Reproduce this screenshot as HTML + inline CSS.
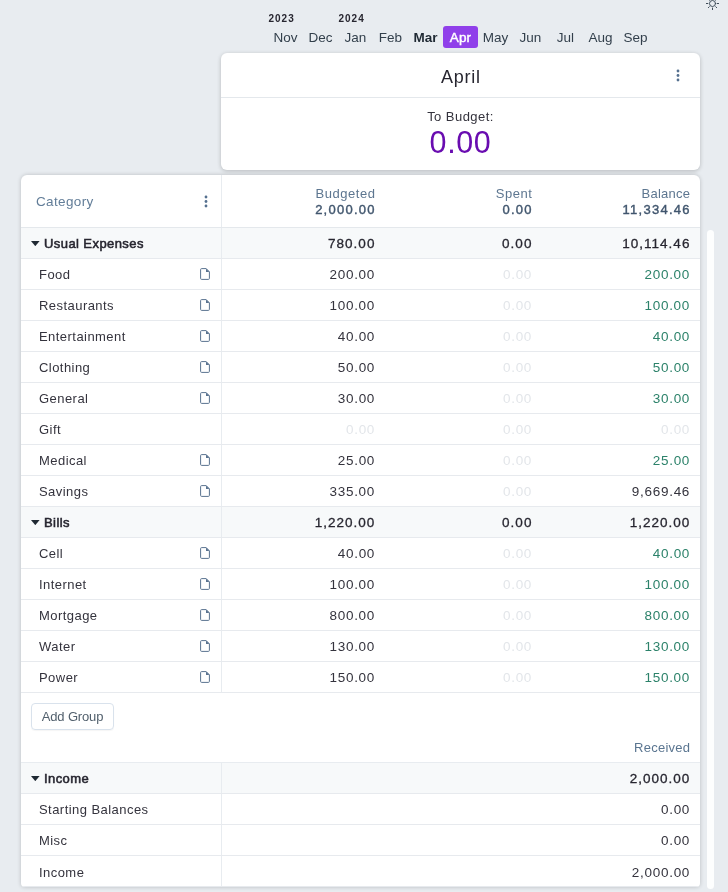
<!DOCTYPE html>
<html><head><meta charset="utf-8"><title>Budget</title>
<style>
*{box-sizing:border-box;margin:0;padding:0}
html,body{width:728px;height:892px;overflow:hidden;background:#e8ecf0;font-family:"Liberation Sans",sans-serif;font-size:13px;color:#34333d}
body{position:relative}
.card,.table,.months,.years{will-change:transform}
.sun{position:absolute;left:705px;top:-4px}
.years div{position:absolute;top:13px;font-size:10px;font-weight:bold;color:#272630;letter-spacing:.95px}
.months{position:absolute;left:268px;top:26px;height:22px;display:flex}
.months div{width:35px;height:22px;line-height:24px;text-align:center;font-size:13.5px;color:#323f4b;border-radius:3px}
.months .b{font-weight:bold;color:#1f2933}
.months .sel{background:#9040ea;color:#fff;-webkit-text-stroke:.45px #fff;letter-spacing:.1px}
.card{position:absolute;left:221px;top:53px;width:479px;height:117px;background:#fff;border-radius:6px;box-shadow:0 1px 4px rgba(0,0,0,.22)}
.card .title{position:absolute;left:0;right:0;top:14px;text-align:center;font-size:18px;color:#272630;letter-spacing:.75px;padding-left:.75px}
.card .hr{position:absolute;left:0;right:0;top:44px;height:1px;background:#e4e8ec}
.card .tb{position:absolute;left:0;right:0;top:56px;text-align:center;font-size:13px;color:#34333d;letter-spacing:.45px}
.card .amt{position:absolute;left:0;right:0;top:72px;text-align:center;font-size:30.5px;color:#690cb0;letter-spacing:.6px}
.kebab{position:absolute}
.table{position:absolute;left:21px;top:175px;width:679px;height:712px;background:#fff;border-radius:6px 6px 4px 4px;box-shadow:0 0 4px rgba(0,0,0,.2);overflow:hidden}
.head{height:53px;border-bottom:1px solid #e4e8ec;position:relative}
.head .vb{position:absolute;left:200px;top:0;bottom:0;width:1px;background:#e8ecf0}
.head .catl{position:absolute;left:15px;top:19px;font-size:13.5px;color:#627d98;letter-spacing:.35px}
.head .col{position:absolute;top:11px;text-align:right;color:#5d7690;font-size:13px;line-height:16px;letter-spacing:.55px;margin-right:-.55px}
.head .col b{display:block;font-weight:normal;letter-spacing:1.25px;margin-right:-.2px;color:#41566e;-webkit-text-stroke:.4px #41566e}
.row:last-child{line-height:33px}
.row{height:31px;border-bottom:1px solid #e7eaee;position:relative;line-height:32px;white-space:nowrap}
.row.grp{background:#f7f9fa;color:#272630;-webkit-text-stroke:.55px #272630}
.row>div{position:absolute;top:0;height:30px}
.c0{left:0;width:201px;border-right:1px solid #e8ecf0}
.c0.cat span{position:absolute;left:18px;letter-spacing:.45px}
.row.grp .c0 span{position:absolute;left:23px;letter-spacing:.42px}
.tri{position:absolute;left:10px;top:13px}
.doc{position:absolute;left:179px;top:9px}
.c1{right:325px;text-align:right;font-size:13.5px;letter-spacing:.72px;margin-right:-.1px}
.c2{right:168px;text-align:right;font-size:13.5px;letter-spacing:.72px;margin-right:-.1px}
.c3{right:10px;text-align:right;font-size:13.5px;letter-spacing:.72px;margin-right:-.1px}
.row.grp .c1,.row.grp .c2,.row.grp .c3{letter-spacing:1.0px;margin-right:-.4px;-webkit-text-stroke-width:.3px}
.z{color:#e3e6ea}
.g{color:#2c826a}
.addrow{height:70px;position:relative}
.addbtn{position:absolute;left:10px;top:10px;width:83px;height:27px;border:1px solid #d9e2ec;border-radius:4px;text-align:center;line-height:25px;color:#52606d;font-size:13px;letter-spacing:-.15px;box-shadow:0 1px 1px rgba(0,0,0,.04)}
.recv{position:absolute;right:10px;top:47px;color:#5a7590;letter-spacing:.25px;margin-right:-.25px}
.addrow .bb{position:absolute;left:0;right:0;bottom:0;height:1px;background:#e8ecf0}
.scroll{position:absolute;left:707px;top:230px;width:7px;height:659px;background:#fdfefe;border-radius:3.5px}
</style></head><body>
<svg class="sun" width="15" height="15" viewBox="0 0 15 15" fill="none" stroke="#3e4c59" stroke-width="1" stroke-linecap="round"><circle cx="7.5" cy="7.5" r="3"/><path d="M7.5 12v1.6M2.9 7.5H1.4M13.6 7.5h-1.5M4.3 10.7l-1 1M10.7 10.7l1 1M4.3 4.3l-1-1M10.7 4.3l1-1"/></svg>
<div class="years"><div style="left:268.6px">2023</div><div style="left:338.6px">2024</div></div>
<div class="months"><div>Nov</div><div>Dec</div><div>Jan</div><div>Feb</div><div class="b">Mar</div><div class="sel">Apr</div><div>May</div><div>Jun</div><div>Jul</div><div>Aug</div><div>Sep</div></div>
<div class="card"><div class="title">April</div>
<svg class="kebab" style="left:454.5px;top:16px" width="4" height="13" viewBox="0 0 4 13"><circle cx="2" cy="2" r="1.4" fill="#55708f"/><circle cx="2" cy="6.5" r="1.4" fill="#55708f"/><circle cx="2" cy="11" r="1.4" fill="#55708f"/></svg>
<div class="hr"></div><div class="tb">To Budget:</div><div class="amt">0.00</div></div>
<div class="scroll"></div>
<div class="table">
<div class="head"><div class="vb"></div><div class="catl">Category</div>
<svg class="kebab" style="left:182.5px;top:20px" width="4" height="13" viewBox="0 0 4 13"><circle cx="2" cy="2" r="1.4" fill="#55708f"/><circle cx="2" cy="6.5" r="1.4" fill="#55708f"/><circle cx="2" cy="11" r="1.4" fill="#55708f"/></svg>
<div class="col" style="right:325px">Budgeted<b>2,000.00</b></div>
<div class="col" style="right:168px">Spent<b>0.00</b></div>
<div class="col" style="right:10px"><span style="letter-spacing:.27px;margin-right:.2px">Balance</span><b>11,334.46</b></div>
</div>
<div class="row grp"><div class="c0"><svg class="tri" viewBox="0 0 10 6" width="8.6" height="5.2"><path d="M0 0h10L5 6z" fill="#1f2933"/></svg><span>Usual Expenses</span></div><div class="c1">780.00</div><div class="c2">0.00</div><div class="c3">10,114.46</div></div><div class="row"><div class="c0 cat"><span>Food</span><svg class="doc" viewBox="0 0 10 12" width="10" height="12"><path d="M1.6 0.6h4.6l3.2 3.2v6.6a1 1 0 0 1-1 1H1.6a1 1 0 0 1-1-1V1.6a1 1 0 0 1 1-1z" fill="none" stroke="#5a7390" stroke-width="1"/><path d="M6 0.6v3.4h3.4z" fill="#5a7390"/></svg></div><div class="c1">200.00</div><div class="c2 z">0.00</div><div class="c3 g">200.00</div></div><div class="row"><div class="c0 cat"><span>Restaurants</span><svg class="doc" viewBox="0 0 10 12" width="10" height="12"><path d="M1.6 0.6h4.6l3.2 3.2v6.6a1 1 0 0 1-1 1H1.6a1 1 0 0 1-1-1V1.6a1 1 0 0 1 1-1z" fill="none" stroke="#5a7390" stroke-width="1"/><path d="M6 0.6v3.4h3.4z" fill="#5a7390"/></svg></div><div class="c1">100.00</div><div class="c2 z">0.00</div><div class="c3 g">100.00</div></div><div class="row"><div class="c0 cat"><span>Entertainment</span><svg class="doc" viewBox="0 0 10 12" width="10" height="12"><path d="M1.6 0.6h4.6l3.2 3.2v6.6a1 1 0 0 1-1 1H1.6a1 1 0 0 1-1-1V1.6a1 1 0 0 1 1-1z" fill="none" stroke="#5a7390" stroke-width="1"/><path d="M6 0.6v3.4h3.4z" fill="#5a7390"/></svg></div><div class="c1">40.00</div><div class="c2 z">0.00</div><div class="c3 g">40.00</div></div><div class="row"><div class="c0 cat"><span>Clothing</span><svg class="doc" viewBox="0 0 10 12" width="10" height="12"><path d="M1.6 0.6h4.6l3.2 3.2v6.6a1 1 0 0 1-1 1H1.6a1 1 0 0 1-1-1V1.6a1 1 0 0 1 1-1z" fill="none" stroke="#5a7390" stroke-width="1"/><path d="M6 0.6v3.4h3.4z" fill="#5a7390"/></svg></div><div class="c1">50.00</div><div class="c2 z">0.00</div><div class="c3 g">50.00</div></div><div class="row"><div class="c0 cat"><span>General</span><svg class="doc" viewBox="0 0 10 12" width="10" height="12"><path d="M1.6 0.6h4.6l3.2 3.2v6.6a1 1 0 0 1-1 1H1.6a1 1 0 0 1-1-1V1.6a1 1 0 0 1 1-1z" fill="none" stroke="#5a7390" stroke-width="1"/><path d="M6 0.6v3.4h3.4z" fill="#5a7390"/></svg></div><div class="c1">30.00</div><div class="c2 z">0.00</div><div class="c3 g">30.00</div></div><div class="row"><div class="c0 cat"><span>Gift</span></div><div class="c1 z">0.00</div><div class="c2 z">0.00</div><div class="c3 z">0.00</div></div><div class="row"><div class="c0 cat"><span>Medical</span><svg class="doc" viewBox="0 0 10 12" width="10" height="12"><path d="M1.6 0.6h4.6l3.2 3.2v6.6a1 1 0 0 1-1 1H1.6a1 1 0 0 1-1-1V1.6a1 1 0 0 1 1-1z" fill="none" stroke="#5a7390" stroke-width="1"/><path d="M6 0.6v3.4h3.4z" fill="#5a7390"/></svg></div><div class="c1">25.00</div><div class="c2 z">0.00</div><div class="c3 g">25.00</div></div><div class="row"><div class="c0 cat"><span>Savings</span><svg class="doc" viewBox="0 0 10 12" width="10" height="12"><path d="M1.6 0.6h4.6l3.2 3.2v6.6a1 1 0 0 1-1 1H1.6a1 1 0 0 1-1-1V1.6a1 1 0 0 1 1-1z" fill="none" stroke="#5a7390" stroke-width="1"/><path d="M6 0.6v3.4h3.4z" fill="#5a7390"/></svg></div><div class="c1">335.00</div><div class="c2 z">0.00</div><div class="c3">9,669.46</div></div><div class="row grp"><div class="c0"><svg class="tri" viewBox="0 0 10 6" width="8.6" height="5.2"><path d="M0 0h10L5 6z" fill="#1f2933"/></svg><span>Bills</span></div><div class="c1">1,220.00</div><div class="c2">0.00</div><div class="c3">1,220.00</div></div><div class="row"><div class="c0 cat"><span>Cell</span><svg class="doc" viewBox="0 0 10 12" width="10" height="12"><path d="M1.6 0.6h4.6l3.2 3.2v6.6a1 1 0 0 1-1 1H1.6a1 1 0 0 1-1-1V1.6a1 1 0 0 1 1-1z" fill="none" stroke="#5a7390" stroke-width="1"/><path d="M6 0.6v3.4h3.4z" fill="#5a7390"/></svg></div><div class="c1">40.00</div><div class="c2 z">0.00</div><div class="c3 g">40.00</div></div><div class="row"><div class="c0 cat"><span>Internet</span><svg class="doc" viewBox="0 0 10 12" width="10" height="12"><path d="M1.6 0.6h4.6l3.2 3.2v6.6a1 1 0 0 1-1 1H1.6a1 1 0 0 1-1-1V1.6a1 1 0 0 1 1-1z" fill="none" stroke="#5a7390" stroke-width="1"/><path d="M6 0.6v3.4h3.4z" fill="#5a7390"/></svg></div><div class="c1">100.00</div><div class="c2 z">0.00</div><div class="c3 g">100.00</div></div><div class="row"><div class="c0 cat"><span>Mortgage</span><svg class="doc" viewBox="0 0 10 12" width="10" height="12"><path d="M1.6 0.6h4.6l3.2 3.2v6.6a1 1 0 0 1-1 1H1.6a1 1 0 0 1-1-1V1.6a1 1 0 0 1 1-1z" fill="none" stroke="#5a7390" stroke-width="1"/><path d="M6 0.6v3.4h3.4z" fill="#5a7390"/></svg></div><div class="c1">800.00</div><div class="c2 z">0.00</div><div class="c3 g">800.00</div></div><div class="row"><div class="c0 cat"><span>Water</span><svg class="doc" viewBox="0 0 10 12" width="10" height="12"><path d="M1.6 0.6h4.6l3.2 3.2v6.6a1 1 0 0 1-1 1H1.6a1 1 0 0 1-1-1V1.6a1 1 0 0 1 1-1z" fill="none" stroke="#5a7390" stroke-width="1"/><path d="M6 0.6v3.4h3.4z" fill="#5a7390"/></svg></div><div class="c1">130.00</div><div class="c2 z">0.00</div><div class="c3 g">130.00</div></div><div class="row"><div class="c0 cat"><span>Power</span><svg class="doc" viewBox="0 0 10 12" width="10" height="12"><path d="M1.6 0.6h4.6l3.2 3.2v6.6a1 1 0 0 1-1 1H1.6a1 1 0 0 1-1-1V1.6a1 1 0 0 1 1-1z" fill="none" stroke="#5a7390" stroke-width="1"/><path d="M6 0.6v3.4h3.4z" fill="#5a7390"/></svg></div><div class="c1">150.00</div><div class="c2 z">0.00</div><div class="c3 g">150.00</div></div>
<div class="addrow"><div class="addbtn">Add Group</div><div class="recv">Received</div><div class="bb"></div></div>
<div class="row grp"><div class="c0"><svg class="tri" viewBox="0 0 10 6" width="8.6" height="5.2"><path d="M0 0h10L5 6z" fill="#1f2933"/></svg><span>Income</span></div><div class="c3 w">2,000.00</div></div><div class="row"><div class="c0 cat"><span>Starting Balances</span></div><div class="c3 w">0.00</div></div><div class="row"><div class="c0 cat"><span>Misc</span></div><div class="c3 w">0.00</div></div><div class="row"><div class="c0 cat"><span>Income</span></div><div class="c3 w">2,000.00</div></div>
</div>
</body></html>
